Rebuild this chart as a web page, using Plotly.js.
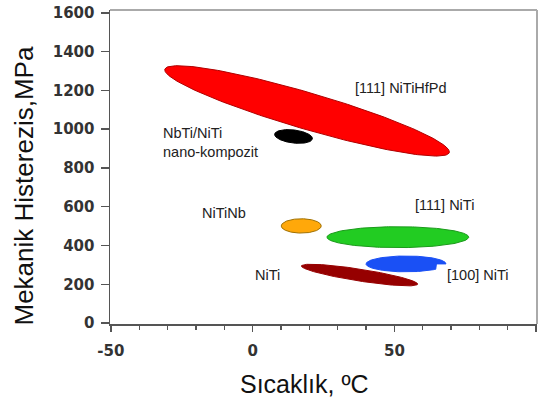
<!DOCTYPE html>
<html>
<head>
<meta charset="utf-8">
<script src="https://cdn.plot.ly/plotly-3.0.1.min.js"></script>
<style>html,body{margin:0;padding:0;background:#fff}#chart{width:550px;height:403px}</style>
</head>
<body>
<div id="chart"></div>
<script>
// Ellipse regions: left tip (x1,y1), right tip (x2,y2), vertical half-thickness h (MPa)
const regionNames = ["[111] NiTiHfPd", "NbTi/NiTi nano-kompozit", "NiTiNb", "[111] NiTi", "[100] NiTi", "NiTi"];
const tipX1 = [-31.0, 7.75, 10.1, 26.2, 40.0, 17.2];
const tipY1 = [1306, 973, 501, 443, 305, 294];
const tipX2 = [69.4, 21.1, 24.2, 76.2, 68.2, 58.2];
const tipY2 = [883, 952, 501, 443, 305, 201];
const halfH = [98, 34, 37, 54, 41, 31];
const cutX  = [null, null, null, null, 64.8, null];

// Text labels
const labelText = ["[111] NiTiHfPd", "NbTi/NiTi<br>nano-kompozit", "NiTiNb", "[111] NiTi", "NiTi", "[100] NiTi"];
const labelX = [52.3, -32.2, -10.2, 67.6, 5.4, 79.6];
const labelY = [1213, 929, 566, 609, 248, 248];
const labelAnchor = ["center", "left", "center", "center", "center", "center"];

const xTicks = [-50, 0, 50, 100];
const yTicks = [0, 200, 400, 600, 800, 1000, 1200, 1400, 1600];

const fillColors = ["#ff0000", "#000000", "#ffa80a", "#22cc22", "#1a50f5", "#960000"];
const lineColors = ["#b00000", "#000000", "#a07000", "#1a9a1a", "#1a50f5", "#960000"];

function ellipsePts(i) {
  const cx = (tipX1[i] + tipX2[i]) / 2, cy = (tipY1[i] + tipY2[i]) / 2;
  const ax = (tipX2[i] - tipX1[i]) / 2, ay = (tipY2[i] - tipY1[i]) / 2;
  const h = halfH[i];
  const xs = [], ys = [];
  const N = 240;
  for (let k = 0; k <= N; k++) {
    const t = 2 * Math.PI * k / N;
    let x = cx + ax * Math.cos(t);
    let y = cy + ay * Math.cos(t) + h * Math.sin(t);
    if (cutX[i] !== null && Math.sin(t) < 0 && x > cutX[i]) {
      y = cy + ay * Math.cos(t);
    }
    xs.push(x); ys.push(y);
  }
  return {xs, ys};
}

const traces = regionNames.map((name, i) => {
  const p = ellipsePts(i);
  return {
    type: "scatter", mode: "lines", name: name,
    x: p.xs, y: p.ys, fill: "toself",
    fillcolor: fillColors[i],
    line: {color: lineColors[i], width: 1},
    hoverinfo: "name", showlegend: false
  };
});

const labelFont = {family: "Liberation Sans, Arial, sans-serif", size: 14.5, color: "#222"};
const annotations = labelText.map((t, i) => ({
  x: labelX[i], y: labelY[i], xref: "x", yref: "y", text: t, showarrow: false,
  xanchor: labelAnchor[i], yanchor: "middle", align: "left", font: labelFont
}));
annotations.push({
  xref: "paper", yref: "paper", x: (304 - 110) / 427, y: 0, yshift: -60,
  text: "Sıcaklık, ºC", showarrow: false, xanchor: "center", yanchor: "middle",
  font: {family: "Liberation Sans, Arial, sans-serif", size: 25, color: "#111"}
});
annotations.push({
  xref: "paper", yref: "paper", x: 0, xshift: -86, y: (324 - 186.5) / 314,
  text: "Mekanik Histerezis,MPa", showarrow: false, textangle: -90,
  xanchor: "center", yanchor: "middle",
  font: {family: "Liberation Sans, Arial, sans-serif", size: 26, color: "#111"}
});

const tickFont = {family: "DejaVu Sans", size: 15, color: "#333", weight: "bold"};

const layout = {
  width: 550, height: 403,
  margin: {l: 110, r: 13, t: 10, b: 79},
  paper_bgcolor: "#fff", plot_bgcolor: "#fff",
  showlegend: false,
  xaxis: {
    range: [-50.3, 100.3], tickvals: xTicks, ticktext: xTicks.map(String),
    showgrid: false, zeroline: false, showline: true, linecolor: "#555", linewidth: 1.5,
    ticks: "outside", ticklen: 6, tickwidth: 1.5, tickcolor: "#555",
    ticklabelstandoff: 6, tickfont: tickFont,
    minor: {dtick: 10, tick0: 0, ticks: "outside", ticklen: 4, tickwidth: 1.2, tickcolor: "#555", showgrid: false}
  },
  yaxis: {
    range: [-5, 1615], tickvals: yTicks, ticktext: yTicks.map(String),
    showgrid: false, zeroline: false, showline: true, linecolor: "#555", linewidth: 1.5,
    ticks: "outside", ticklen: 8, tickwidth: 1.5, tickcolor: "#555",
    ticklabelstandoff: 3, tickfont: tickFont
  },
  shapes: [
    {type: "line", xref: "paper", yref: "paper", x0: 0, x1: 1, y0: 1, y1: 1, line: {color: "#aaa", width: 2}},
    {type: "line", xref: "paper", yref: "paper", x0: 1, x1: 1, y0: 0, y1: 1, line: {color: "#aaa", width: 2}}
  ],
  annotations: annotations
};

Plotly.newPlot("chart", traces, layout, {displayModeBar: false, staticPlot: true});
</script>
</body>
</html>
